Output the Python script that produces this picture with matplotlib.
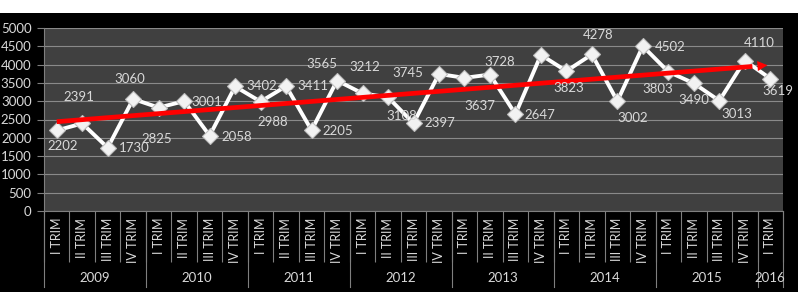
import numpy as np
import matplotlib
matplotlib.use('Agg')
import matplotlib.pyplot as plt
from matplotlib.patches import Rectangle, FancyArrowPatch
import matplotlib.transforms as mtransforms

# Quarterly values (2009 I TRIM .. 2016 I TRIM).
quarters = ['I TRIM', 'II TRIM', 'III TRIM', 'IV TRIM'] * 7 + ['I TRIM']
years = ['2009', '2010', '2011', '2012', '2013', '2014', '2015', '2016']
values = [2202, 2391, 1730, 3060,
          2825, 3001, 2058, 3402,
          2988, 3411, 2205, 3565,
          3212, 3108, 2397, 3745,
          3637, 3728, 2647, 4265,
          3823, 4278, 3002, 4502,
          3803, 3490, 3013, 4110,
          3619]
# Which points carry a data label (the 2013 IV TRIM one is hidden in the original).
shown = [True] * 29
shown[19] = False

# Label offsets in pixels (dx, dy), kept apart from the data.
offsets = [(6, -16), (-3, 26), (27, 0), (-3, 20),
           (-2, -31), (23, -1), (27, -1), (27, 0),
           (12, -20), (27, 0), (26, -1), (-15, 17),
           (2, 26), (14, -19), (26, 0), (-31, 1),
           (15, -28), (10, 13), (24, -1), (0, 0),
           (2, -17), (6, 19), (15, -17), (27, -1),
           (-11, -17), (0, -17), (18, -13), (14, 18),
           (8, -12)]

W, H = 800, 308
fig = plt.figure(figsize=(W / 100, H / 100), dpi=100)
fig.patch.set_facecolor('black')
# white strips at top and bottom of the picture
fig.patches.append(Rectangle((0, (H - 12.5) / H), 1, 1, transform=fig.transFigure,
                             facecolor='white', zorder=0))
fig.patches.append(Rectangle((0, 0), 1, (H - 292) / H, transform=fig.transFigure,
                             facecolor='white', zorder=0))
fig.patches.append(Rectangle(((W - 2.5) / W, 0), 1, 1, transform=fig.transFigure,
                             facecolor='white', zorder=0))

left, right, top, bottom = 44, 783, 28, 211
ax = fig.add_axes([left / W, (H - bottom) / H, (right - left) / W, (bottom - top) / H])
ax.set_facecolor('#404040')

n = len(values)
x = np.arange(n)
ax.set_xlim(-0.5, n - 0.5)
ax.set_ylim(0, 5000)
ax.set_yticks(range(0, 5001, 500))
ax.yaxis.grid(True, color='#8a8a8a', lw=0.8)
ax.set_axisbelow(True)
ax.tick_params(axis='y', colors='#7f7f7f', labelcolor='#d9d9d9', length=5, labelsize=9.5, pad=4)
for lab in ax.get_yticklabels():
    lab.set_fontfamily('Lato')
for s in ['top', 'right']:
    ax.spines[s].set_visible(False)
ax.spines['left'].set_color('#7f7f7f')
ax.spines['bottom'].set_color('#7f7f7f')

# category axis: separators between quarters, longer ones between years
ax.set_xticks(np.arange(-0.5, n, 1))
ax.set_xticklabels([])
ax.tick_params(axis='x', colors='#7f7f7f', length=51 * 0.72, width=0.8, direction='out')
trans = mtransforms.blended_transform_factory(ax.transData, ax.transAxes)
px = 1.0 / (bottom - top)
for i, q in enumerate(quarters):
    ax.text(i, -7 * px, q, rotation=90, ha='center', va='top', color='#d9d9d9',
            fontsize=9, family='Lato', transform=trans)
year_bounds = [-0.5] + [3.5 + 4 * k for k in range(7)] + [n - 0.5]
for b in year_bounds:
    ax.plot([b, b], [0, -76 * px], color='#7f7f7f', lw=0.8, transform=trans, clip_on=False)
for k, yr in enumerate(years):
    c = (year_bounds[k] + year_bounds[k + 1]) / 2
    ax.text(c, -67 * px, yr, ha='center', va='center', color='#d9d9d9',
            fontsize=9.5, family='Lato', transform=trans)

# data line
ax.plot(x, values, color='white', lw=2.8, marker='D', markersize=8,
        markerfacecolor='#f2f2f2', markeredgecolor='#bfbfbf', markeredgewidth=0.8, zorder=3)

# linear trend with arrow
slope, icpt = np.polyfit(x, values, 1)
ax.plot([0, n - 1.7], [icpt, icpt + slope * (n - 1.7)], color='#ff0000', lw=3.4,
        solid_capstyle='butt', zorder=4)
arrow = FancyArrowPatch((n - 2.0, icpt + slope * (n - 2.0)), (n - 1, icpt + slope * (n - 1)),
                        arrowstyle='-|>', mutation_scale=18, color='#ff0000', lw=0, zorder=4)
ax.add_patch(arrow)

for i, v in enumerate(values):
    if not shown[i]:
        continue
    dx, dy = offsets[i]
    ax.annotate(str(v), (i, v), xytext=(dx * 0.72, dy * 0.72), textcoords='offset points',
                ha='center', va='center', color='#d9d9d9', fontsize=9.5, family='Lato',
                annotation_clip=False, zorder=5)

fig.savefig('out.png', dpi=100, facecolor=fig.get_facecolor())
